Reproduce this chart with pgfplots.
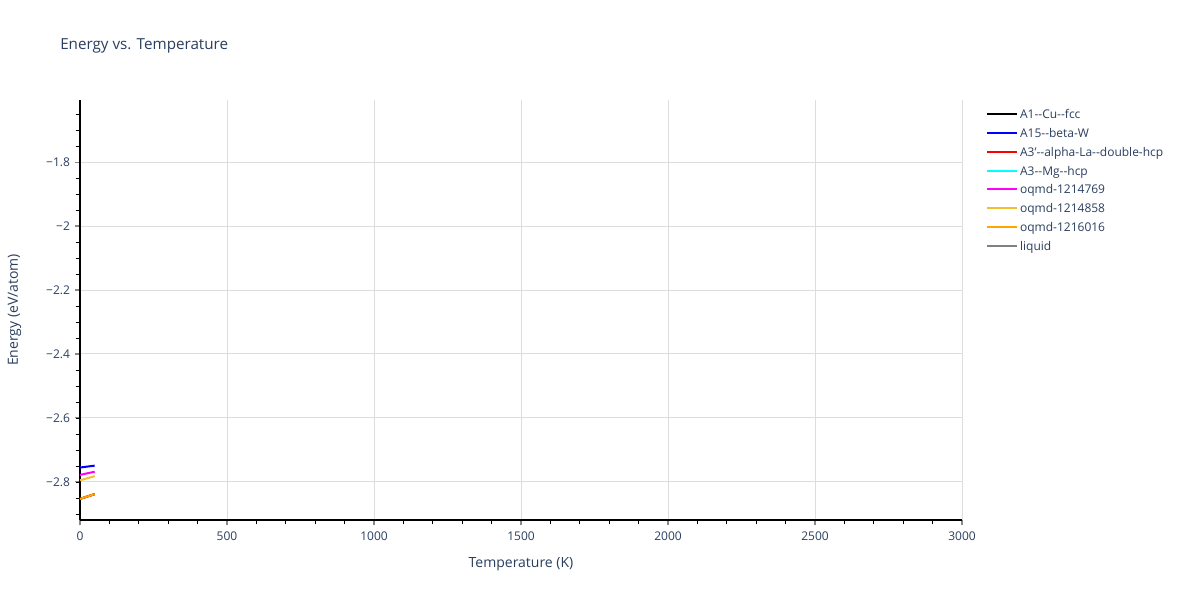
\documentclass[border=0pt]{standalone}
\usepackage{pgfplots}
\pgfplotsset{compat=1.18}
\usepackage{fontspec}
\setmainfont{Open Sans}
\definecolor{plotlytext}{HTML}{2A3F5F}
\definecolor{gridgrey}{HTML}{DDDDDD}
\definecolor{tickgrey}{HTML}{888888}
\definecolor{pblue}{HTML}{0000FF}
\definecolor{pred}{HTML}{FF0000}
\definecolor{pcyan}{HTML}{00FFFF}
\definecolor{pmagenta}{HTML}{FF00FF}
\definecolor{oqyellow}{HTML}{F0C030}
\definecolor{oqorange}{HTML}{FFA500}
\begin{document}
\begin{tikzpicture}[x=0.75pt,y=0.75pt]
\path[use as bounding box, fill=white] (0,0) rectangle (1200,600);
\node[anchor=west, inner sep=0pt, text=plotlytext, font=\fontsize{11.4pt}{13pt}\selectfont] at (60,554) {Energy vs. Temperature};
\begin{axis}[
    at={(60pt,60pt)}, anchor=south west,
    scale only axis,
    width=661.5pt, height=315pt,
    xmin=0, xmax=3000, ymin=-2.919, ymax=-1.606,
    xtick={0,500,...,3000},
    ytick={-2.8,-2.6,-2.4,-2.2,-2,-1.8},
    yticklabels={−2.8,−2.6,−2.4,−2.2,−2,−1.8},
    minor xtick={100,200,...,2900},
    minor ytick={-2.9,-2.85,...,-1.6},
    ticklabel style={text=plotlytext, font=\fontsize{9pt}{10pt}\selectfont},
    /pgf/number format/assume math mode=true,
    /pgf/number format/1000 sep={},
    tick align=outside,
    major tick length=4pt, minor tick length=3pt,
    major tick style={tickgrey, line width=0.8pt},
    minor tick style={black, line width=0.6pt},
    xmajorgrids, ymajorgrids,
    major grid style={gridgrey, line width=0.75pt},
    axis x line*=bottom, axis y line*=left,
    axis line style={black, line width=0.9pt, -},
    xlabel={Temperature (K)}, ylabel={Energy (eV/atom)},
    label style={text=plotlytext, font=\fontsize{10.5pt}{12pt}\selectfont},
    xlabel style={at={(0.5,0)}, anchor=center, yshift=-33.5pt},
    ylabel style={at={(0,0.5)}, anchor=center, yshift=49pt},
    xticklabel style={yshift=-1pt},
    legend style={at={(1.027,0.983)}, anchor=north west, draw=none, fill=none,
        font=\fontsize{9pt}{10pt}\selectfont, text=plotlytext,
        row sep=4.3pt, inner sep=0pt,
        nodes={inner sep=1.5pt, text depth=0pt}},
    legend cell align=left,
    legend image code/.code={\draw[#1, line width=1.5pt] (0pt,0pt) -- (22.5pt,0pt);},
    clip=false,
]
\addplot[black, line width=1.5pt] coordinates {(0,-2.853) (50,-2.838)};
\addplot[pblue, line width=1.5pt] coordinates {(0,-2.755) (50,-2.749)};
\addplot[pred, line width=1.5pt] coordinates {(0,-2.853) (50,-2.838)};
\addlegendimage{pcyan, line width=1.5pt}
\addplot[pmagenta, line width=1.5pt] coordinates {(0,-2.778) (50,-2.768)};
\addplot[oqyellow, line width=1.5pt] coordinates {(0,-2.795) (50,-2.782)};
\addplot[oqorange, line width=1.5pt] coordinates {(0,-2.853) (50,-2.838)};
\addlegendimage{gray, line width=1.5pt}
\legend{A1-{}-Cu-{}-fcc, A15-{}-beta-W, A3'-{}-alpha-La-{}-double-hcp, A3-{}-Mg-{}-hcp, oqmd-1214769, oqmd-1214858, oqmd-1216016, liquid}
\end{axis}
\end{tikzpicture}
\end{document}
